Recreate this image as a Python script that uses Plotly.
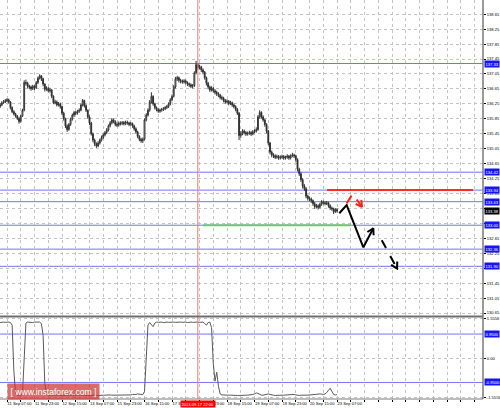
import math
import plotly.graph_objects as go
from plotly.subplots import make_subplots

# ---------------- data ----------------
bar_index = list(range(197))
first_open = 136.18
closes = [
    136.22,136.28,136.30,136.33,136.36,136.30,136.15,136.04,135.98,135.92,
    135.86,135.78,135.92,136.08,136.82,136.80,136.72,136.70,136.66,136.72,
    136.68,136.82,136.94,137.00,136.92,136.78,136.64,136.66,136.60,136.62,
    136.45,136.28,136.30,136.22,136.25,136.18,136.00,135.85,135.66,135.56,
    135.70,135.84,135.95,136.02,136.00,136.05,136.08,136.22,136.34,136.20,
    136.08,135.90,135.74,135.45,135.28,135.18,135.12,135.20,135.28,135.35,
    135.42,135.48,135.55,135.66,135.74,135.82,135.78,135.70,135.68,135.74,
    135.72,135.75,135.72,135.76,135.74,135.70,135.72,135.66,135.58,135.50,
    135.38,135.30,135.26,135.30,135.82,135.95,136.08,136.30,136.45,136.25,
    136.15,136.10,136.05,136.08,136.10,136.12,136.15,136.18,136.25,136.36,
    136.45,136.70,136.92,136.95,136.88,136.86,136.84,136.86,136.82,136.78,
    136.76,136.72,136.74,137.08,137.30,137.22,137.24,137.16,137.10,136.95,
    136.80,136.70,136.62,136.66,136.60,136.56,136.52,136.48,136.42,136.40,
    136.34,136.30,136.32,136.26,136.28,136.22,136.18,136.10,136.00,135.40,
    135.45,135.52,135.48,135.44,135.46,135.48,135.44,135.50,135.52,135.56,
    135.90,136.02,135.90,135.82,135.70,135.52,135.20,134.96,134.88,134.86,
    134.82,134.84,134.80,134.82,134.84,134.80,134.82,134.85,134.80,134.86,
    134.88,134.86,134.76,134.50,134.38,134.22,134.05,133.98,133.78,133.72,
    133.70,133.66,133.58,133.50,133.52,133.48,133.56,133.62,133.60,133.58,
    133.60,133.52,133.46,133.44,133.36,133.42,133.38,
]
highs = [
    136.27,136.32,136.35,136.38,136.40,136.39,136.32,136.18,136.08,136.01,
    135.95,135.89,135.95,136.12,136.88,136.90,136.84,136.76,136.74,136.76,
    136.75,136.86,136.98,137.04,137.02,136.95,136.80,136.72,136.70,136.68,
    136.65,136.48,136.36,136.34,136.30,136.28,136.20,136.04,135.88,135.70,
    135.74,135.88,135.99,136.06,136.06,136.09,136.13,136.26,136.38,136.36,
    136.24,136.10,135.94,135.77,135.48,135.32,135.22,135.25,135.32,135.40,
    135.46,135.52,135.60,135.70,135.79,135.87,135.86,135.81,135.75,135.78,
    135.78,135.79,135.79,135.80,135.80,135.77,135.77,135.75,135.69,135.62,
    135.53,135.41,135.34,135.35,135.86,136.00,136.13,136.35,136.56,136.48,
    136.28,136.18,136.13,136.12,136.14,136.16,136.19,136.22,136.29,136.40,
    136.50,136.75,136.97,137.00,136.98,136.92,136.90,136.91,136.90,136.85,
    136.82,136.80,136.78,137.12,137.40,137.34,137.30,137.27,137.20,137.13,
    136.98,136.84,136.74,136.72,136.70,136.64,136.60,136.56,136.52,136.47,
    136.44,136.38,136.37,136.35,136.33,136.31,136.26,136.21,136.14,136.03,
    135.52,135.57,135.56,135.52,135.51,135.53,135.52,135.55,135.57,135.62,
    135.95,136.08,136.05,135.94,135.85,135.73,135.55,135.23,135.00,134.93,
    134.90,134.89,134.88,134.87,134.89,134.88,134.86,134.90,134.88,134.90,
    134.94,134.92,134.89,134.79,134.54,134.42,134.26,134.10,134.02,133.82,
    133.77,133.74,133.69,133.62,133.57,133.56,133.60,133.67,133.66,133.64,
    133.65,133.63,133.56,133.50,133.47,133.46,133.45,
]
lows = [
    136.14,136.19,136.25,136.27,136.30,136.26,136.10,136.00,135.94,135.88,
    135.82,135.72,135.75,135.90,136.05,136.74,136.66,136.64,136.60,136.62,
    136.62,136.65,136.78,136.90,136.86,136.72,136.58,136.60,136.56,136.55,
    136.40,136.24,136.24,136.18,136.18,136.12,135.95,135.80,135.60,135.50,
    135.53,135.66,135.80,135.90,135.95,135.96,136.01,136.05,136.18,136.15,
    136.03,135.85,135.68,135.40,135.22,135.12,135.07,135.09,135.16,135.24,
    135.31,135.38,135.44,135.51,135.62,135.70,135.73,135.65,135.63,135.64,
    135.67,135.68,135.67,135.68,135.69,135.65,135.66,135.61,135.53,135.45,
    135.33,135.25,135.21,135.20,135.27,135.78,135.91,136.04,136.26,136.20,
    136.10,136.05,136.01,136.01,136.04,136.06,136.08,136.11,136.14,136.21,
    136.32,136.42,136.66,136.86,136.82,136.80,136.79,136.79,136.77,136.73,
    136.70,136.67,136.66,136.70,137.04,137.16,137.17,137.10,137.04,136.90,
    136.74,136.64,136.57,136.58,136.55,136.50,136.46,136.43,136.37,136.35,
    136.29,136.25,136.26,136.21,136.22,136.17,136.13,136.05,135.95,135.28,
    135.34,135.41,135.43,135.39,135.40,135.42,135.39,135.41,135.46,135.48,
    135.53,135.86,135.85,135.77,135.64,135.46,135.14,134.90,134.82,134.80,
    134.77,134.78,134.75,134.76,134.78,134.75,134.76,134.78,134.75,134.76,
    134.82,134.80,134.70,134.44,134.32,134.16,133.98,133.92,133.72,133.66,
    133.64,133.60,133.52,133.44,133.45,133.42,133.45,133.52,133.55,133.53,
    133.54,133.47,133.41,133.39,133.30,133.33,133.34,
]
osc_values = [
    1.40,1.42,1.42,1.41,1.42,1.42,1.40,1.30,-0.50,-1.40,
    -1.45,-1.46,-1.45,-1.40,0.10,1.38,1.42,1.41,1.42,1.40,
    1.42,1.41,1.42,1.42,1.36,0.90,-1.00,-1.42,
    -1.45,-1.46,-1.45,-1.44,-1.46,-1.45,-1.45,-1.46,-1.44,-1.45,
    -1.46,-1.46,-1.44,-1.45,-1.45,-1.46,-1.45,-1.44,-1.45,-1.45,
    -1.44,-1.45,-1.46,-1.46,-1.45,-1.46,-1.46,-1.45,-1.46,-1.45,
    -1.45,-1.44,-1.45,-1.45,-1.44,-1.45,-1.44,-1.45,-1.45,-1.46,
    -1.45,-1.45,-1.44,-1.45,-1.45,-1.44,-1.45,-1.45,-1.44,-1.42,
    -1.43,-1.42,-1.40,-1.42,-1.44,-1.43,
    -1.30,0.00,1.30,1.40,1.32,1.24,1.38,
    1.42,1.41,1.42,1.42,1.40,1.42,1.42,1.41,1.42,1.42,
    1.42,1.41,1.42,1.42,1.42,1.41,1.42,1.42,1.40,1.42,
    1.42,1.41,1.42,1.42,1.42,1.41,1.42,1.42,
    1.36,1.30,1.40,1.42,1.20,-0.20,-0.90,-0.55,-1.10,-1.40,
    -1.44,-1.45,-1.45,-1.46,-1.45,-1.45,-1.46,-1.45,-1.45,-1.46,
    -1.46,-1.45,-1.45,-1.44,-1.45,-1.45,-1.44,-1.45,-1.42,-1.40,
    -1.36,-1.38,-1.43,-1.45,-1.45,-1.44,-1.42,-1.40,-1.42,-1.45,
    -1.45,-1.46,-1.45,-1.45,-1.44,-1.45,-1.45,-1.44,-1.45,-1.44,
    -1.42,-1.41,-1.42,-1.44,-1.46,-1.46,-1.45,-1.46,-1.46,-1.45,
    -1.45,-1.44,-1.44,-1.42,-1.41,-1.40,-1.41,-1.40,-1.41,-1.42,
    -1.40,-1.35,-1.26,-1.18,-1.30,-1.42,-1.44,-1.43,
]
assert len(closes) == len(highs) == len(lows) == len(osc_values) == len(bar_index)
opens = [first_open] + closes[:-1]

time_label_bars = [4, 20, 36, 52, 68, 84, 100, 116, 132, 148, 164, 180, 196]
time_labels = ["11 Sep 07:00", "11 Sep 23:00", "12 Sep 15:00", "13 Sep 07:00",
               "15 Sep 23:00", "16 Sep 15:00", "17 Sep 07:00", "17 Sep 23:00",
               "18 Sep 15:00", "19 Sep 07:00", "19 Sep 23:00", "20 Sep 15:00",
               "23 Sep 07:00"]
grid_bars = list(range(4, 281, 8))

price_ticks = [130.65, 131.05, 131.45, 131.85, 132.25, 132.65, 133.05, 133.45,
               133.85, 134.25, 134.65, 135.05, 135.45, 135.85, 136.25, 136.65,
               137.05, 137.45, 137.85, 138.25, 138.65]
hidden_price_ticks = [131.85, 133.05, 133.45]   # covered by level boxes on the original
level_prices = [137.33, 134.42, 133.94, 133.63, 133.00, 132.36, 131.90]
current_price = 133.38
resistance_price = 133.94
resistance_bars = [190.2, 275.1]
support_price = 133.00
support_bars = [118.0, 204.1]
marker_bar = 115
marker_label = "2013.09.17 22:00"

osc_ticks = [1.5556, 0.0, -1.5556]
osc_tick_text = ["1.5556", "0.00", "-1.5556"]
osc_levels = [0.95, -0.95]
osc_level_text = ["0.9500", "-0.9500"]

# forecast drawings (bar index, price)
solid_path_bars = [197.3, 201.6, 211.3, 217.1]
solid_path_prices = [133.32, 133.54, 132.41, 132.92]
dash_path_bars = [222.0, 230.9]
dash_path_prices = [132.60, 131.84]
red_path_bars = [201.6, 205.1, 210.5]
red_path_prices = [133.59, 133.84, 133.49]

# ---------------- layout constants ----------------
W, H = 500, 408
ML, MR, MT, MB = 0, 17, 0, 9
X_RANGE = [-0.07, 280.9]
Y_RANGE = [130.57, 139.03]
OSC_RANGE = [-1.60, 1.60]
PLOT_H = H - MT - MB
price_dom = [(PLOT_H - 316) / PLOT_H, 1.0]
osc_dom = [0.0, (PLOT_H - 317.5) / PLOT_H]
SX = (W - ML - MR) / (X_RANGE[1] - X_RANGE[0])
SY = (price_dom[1] - price_dom[0]) * PLOT_H / (Y_RANGE[1] - Y_RANGE[0])

FONT = "Liberation Sans"
FS = 4.1
BLUE_LINE = "#7373ff"
BLUE_BOX = "#1414ff"
GRID = "#c4c4c4"

fig = make_subplots(rows=2, cols=1, shared_xaxes=True, vertical_spacing=0.0)

fig.add_trace(go.Candlestick(
    x=bar_index, open=opens, high=highs, low=lows, close=closes,
    increasing=dict(line=dict(color="#333333", width=1), fillcolor="#ffffff"),
    decreasing=dict(line=dict(color="#333333", width=1), fillcolor="#000000"),
    whiskerwidth=0, hoverinfo="skip", showlegend=False), row=1, col=1)

fig.add_trace(go.Scatter(x=bar_index, y=osc_values, mode="lines",
                         line=dict(color="#5a5a5a", width=1),
                         hoverinfo="skip", showlegend=False), row=2, col=1)

# horizontal blue levels
for p in level_prices:
    fig.add_shape(type="line", xref="x domain", yref="y", x0=0, x1=1, y0=p, y1=p,
                  line=dict(color=BLUE_LINE, width=1), layer="below")
for v in osc_levels:
    fig.add_shape(type="line", xref="x2 domain", yref="y2", x0=0, x1=1, y0=v, y1=v,
                  line=dict(color=BLUE_LINE, width=1), layer="below")

# support / resistance segments
fig.add_trace(go.Scatter(x=resistance_bars, y=[resistance_price] * 2, mode="lines",
                         line=dict(color="#ff2a2a", width=2), hoverinfo="skip",
                         showlegend=False), row=1, col=1)
fig.add_trace(go.Scatter(x=support_bars, y=[support_price] * 2, mode="lines",
                         line=dict(color="#6cc86c", width=2), hoverinfo="skip",
                         showlegend=False), row=1, col=1)


def arrow_head(xs, ys, length=7.0, ang=30.0):
    x0, y0, x1, y1 = xs[-2], ys[-2], xs[-1], ys[-1]
    th = math.atan2((y1 - y0) * SY, (x1 - x0) * SX)
    hx, hy = [], []
    for s in (1, -1):
        a = th + math.pi + s * math.radians(ang)
        hx.append(x1 + length * math.cos(a) / SX)
        hy.append(y1 + length * math.sin(a) / SY)
    return [hx[0], x1, hx[1]], [hy[0], y1, hy[1]]


for xs, ys, col, dash in [
    (solid_path_bars, solid_path_prices, "#000000", "solid"),
    (dash_path_bars, dash_path_prices, "#000000", "dash"),
    (red_path_bars, red_path_prices, "#ff2020", "dash"),
]:
    fig.add_trace(go.Scatter(x=xs, y=ys, mode="lines",
                             line=dict(color=col, width=2, dash=dash),
                             hoverinfo="skip", showlegend=False), row=1, col=1)
    hx, hy = arrow_head(xs, ys)
    fig.add_trace(go.Scatter(x=hx, y=hy, mode="lines",
                             line=dict(color=col, width=2),
                             hoverinfo="skip", showlegend=False), row=1, col=1)

# vertical marker line through both panels
fig.add_shape(type="line", xref="x", yref="paper", x0=marker_bar, x1=marker_bar,
              y0=0, y1=1, line=dict(color="#f07878", width=1))
# panel separator and frame
sep_y = (PLOT_H - 316.5) / PLOT_H
fig.add_shape(type="line", xref="paper", yref="paper", x0=0, x1=1, y0=sep_y, y1=sep_y,
              line=dict(color="#6e6e6e", width=2))
fig.add_shape(type="line", xref="paper", yref="paper", x0=1, x1=1, y0=0, y1=1,
              line=dict(color="#7a7a7a", width=1.5))
fig.add_shape(type="line", xref="paper", yref="paper", x0=0, x1=1, y0=0, y1=0,
              line=dict(color="#7a7a7a", width=1))

annotations = []
for p in level_prices:
    annotations.append(dict(xref="paper", yref="y", x=1, y=p, xanchor="left", yanchor="middle",
                            xshift=1, text=f"{p:.2f}", showarrow=False, bgcolor=BLUE_BOX,
                            borderpad=0.5, font=dict(family=FONT, size=FS, color="#ffffff")))
annotations.append(dict(xref="paper", yref="y", x=1, y=current_price, xanchor="left",
                        yanchor="middle", xshift=1, text=f"{current_price:.2f}", showarrow=False,
                        bgcolor="#000000", borderpad=0.5,
                        font=dict(family=FONT, size=FS, color="#ffffff")))
for v, t in zip(osc_levels, osc_level_text):
    annotations.append(dict(xref="paper", yref="y2", x=1, y=v, xanchor="left", yanchor="middle",
                            xshift=1, text=t, showarrow=False, bgcolor=BLUE_BOX, borderpad=0.5,
                            font=dict(family=FONT, size=FS, color="#ffffff")))
annotations.append(dict(xref="x2", yref="paper", x=marker_bar, y=0, xanchor="center",
                        yanchor="top", yshift=-1, text=marker_label, showarrow=False,
                        bgcolor="#ff0000", borderpad=0.5,
                        font=dict(family=FONT, size=FS, color="#ffffff")))
annotations.append(dict(xref="paper", yref="paper", x=7 / (W - MR), y=(PLOT_H - 391.5) / PLOT_H,
                        xanchor="left", yanchor="middle", text="[ www.instaforex.com ]",
                        showarrow=False, bgcolor="rgba(205,50,50,0.72)", borderpad=2.5,
                        font=dict(family=FONT, size=8.6, color="#ffffff")))

tick_text = []
for b in grid_bars:
    tick_text.append(time_labels[time_label_bars.index(b)] if b in time_label_bars else "")
price_tick_text = ["" if p in hidden_price_ticks else f"{p:.2f}" for p in price_ticks]

axis_common = dict(showgrid=True, gridcolor=GRID, griddash="dot", gridwidth=1,
                   zeroline=False, showline=False)

fig.update_layout(
    width=W, height=H, margin=dict(l=ML, r=MR, t=MT, b=MB),
    paper_bgcolor="#ffffff", plot_bgcolor="#ffffff", showlegend=False,
    annotations=annotations,
    xaxis=dict(range=X_RANGE, tickmode="array", tickvals=grid_bars, showticklabels=False,
               ticks="", rangeslider=dict(visible=False), **axis_common),
    xaxis2=dict(range=X_RANGE, tickmode="array", tickvals=grid_bars, ticktext=tick_text,
                ticks="outside", ticklen=2, tickcolor="#000000", tickangle=0,
                ticklabelposition="outside right", automargin=False,
                tickfont=dict(family=FONT, size=FS, color="#000000"),
                rangeslider=dict(visible=False), **axis_common),
    yaxis=dict(domain=price_dom, range=Y_RANGE, side="right", tickmode="array",
               tickvals=price_ticks, ticktext=price_tick_text,
               ticks="outside", ticklen=2, tickcolor="#000000", automargin=False,
               tickfont=dict(family=FONT, size=FS, color="#000000"), **axis_common),
    yaxis2=dict(domain=osc_dom, range=OSC_RANGE, side="right", tickmode="array",
                tickvals=osc_ticks, ticktext=osc_tick_text, automargin=False,
                ticks="outside", ticklen=2, tickcolor="#000000",
                tickfont=dict(family=FONT, size=FS, color="#000000"), **axis_common),
)

fig.write_html("out.html", config={"displayModeBar": False},
               post_script="document.body.style.margin='0px';document.body.style.overflow='hidden';")
